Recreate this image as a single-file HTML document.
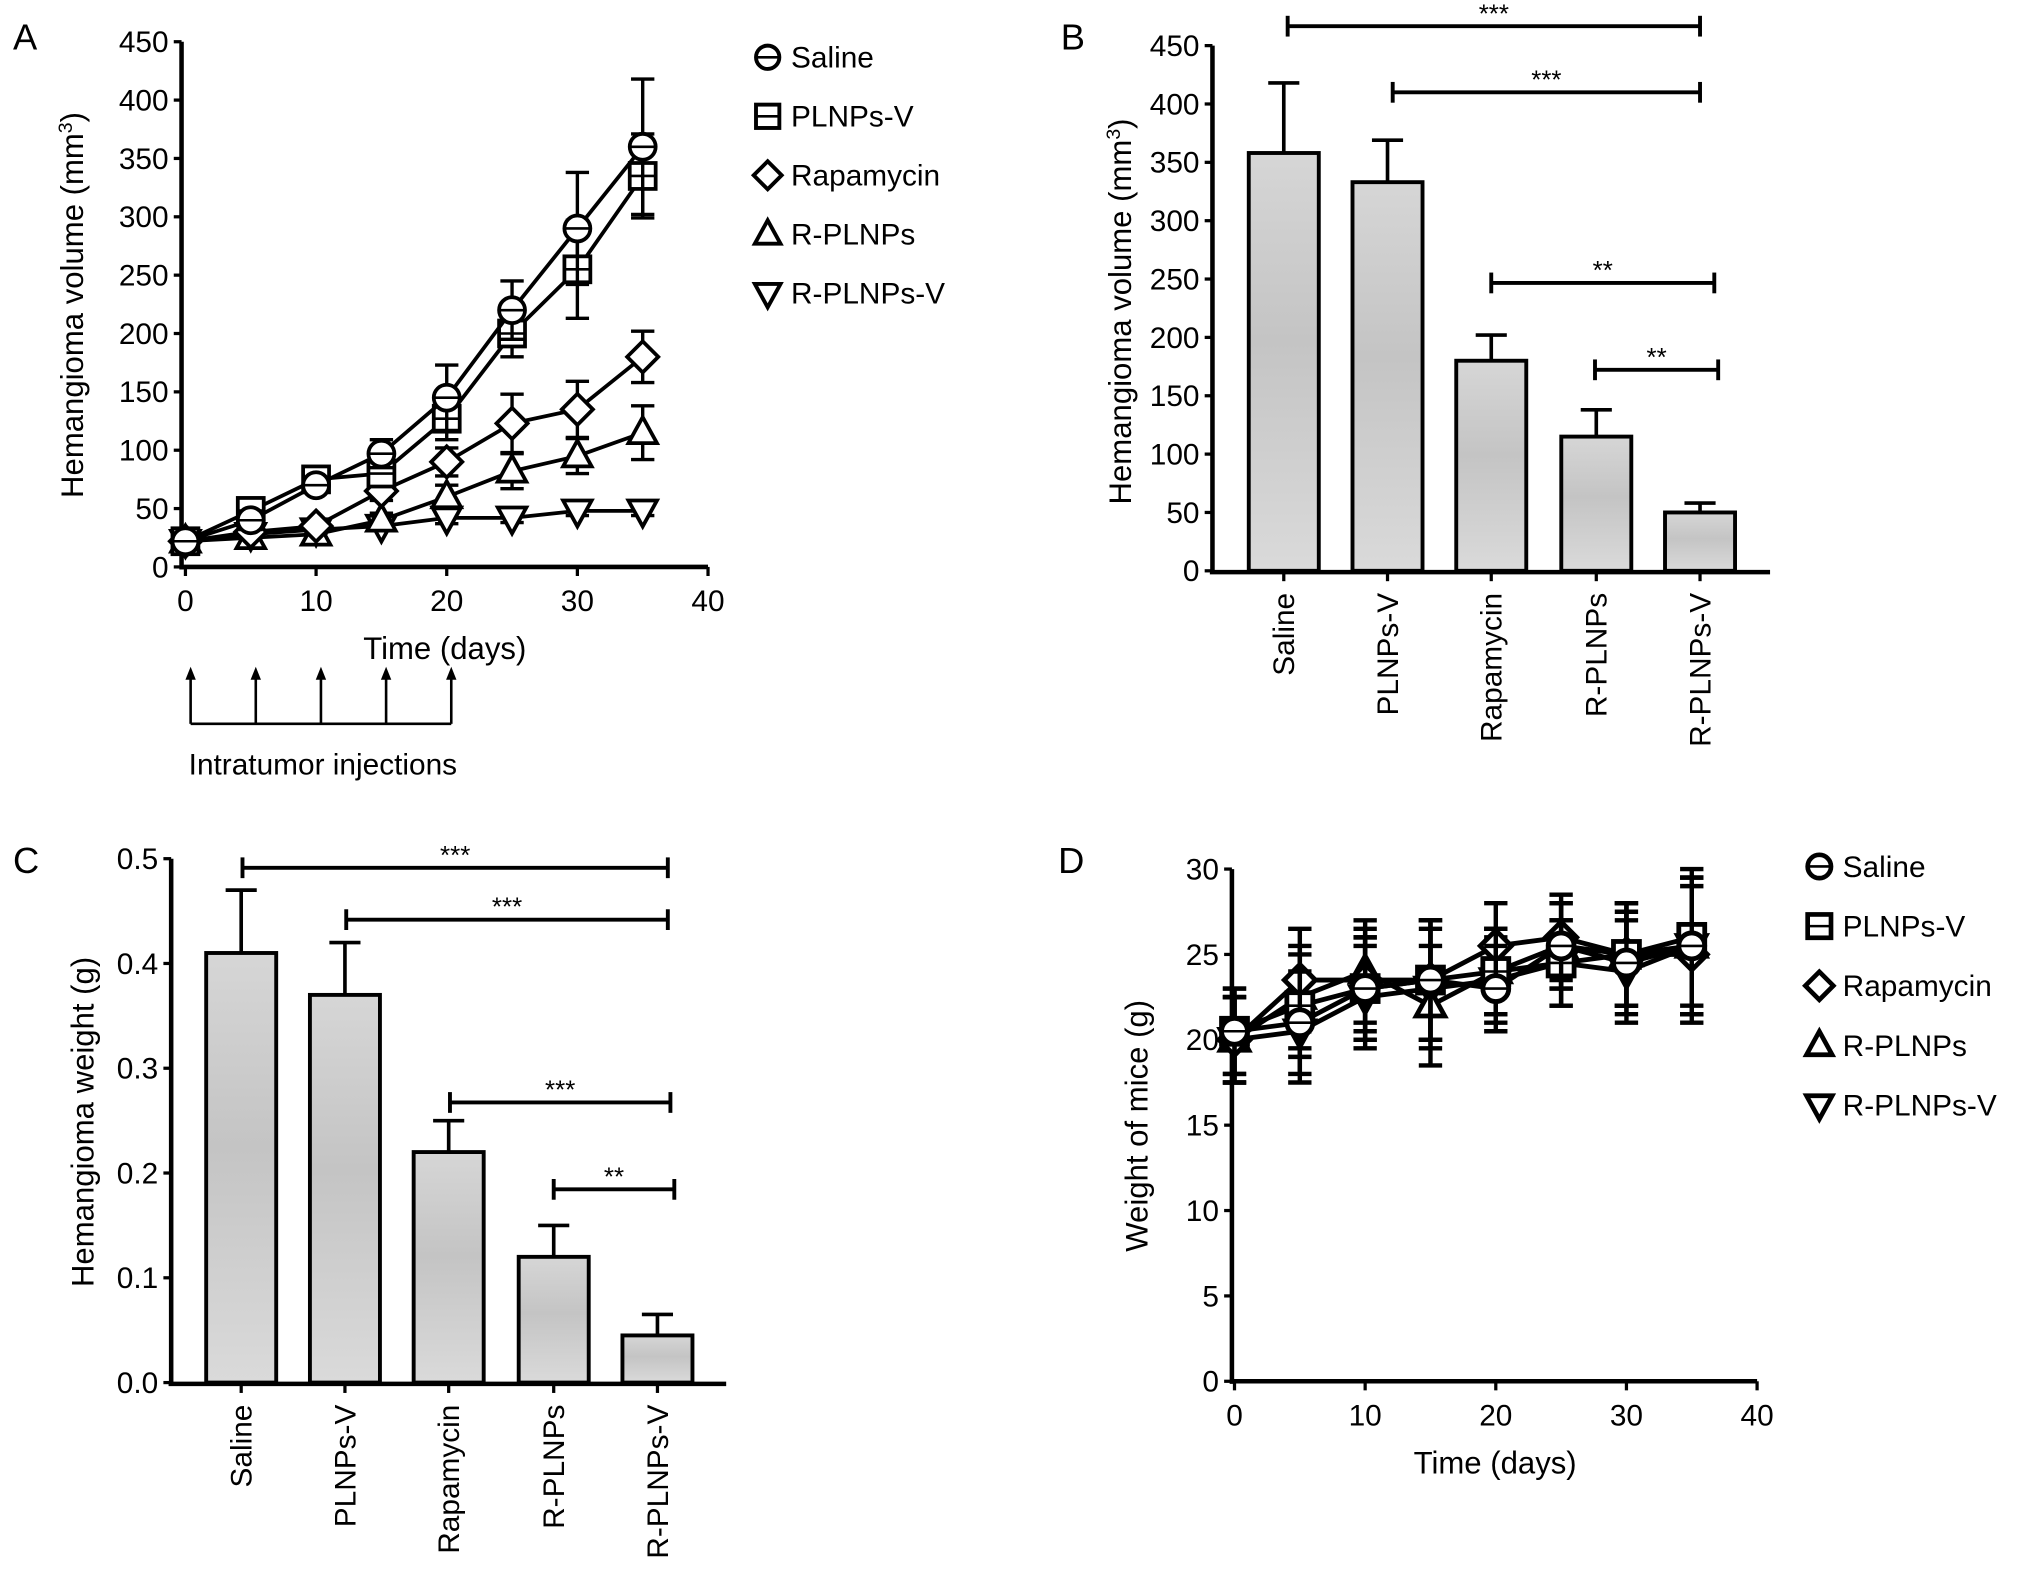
<!DOCTYPE html>
<html><head><meta charset="utf-8"><style>
html,body{margin:0;padding:0;background:#fff;}
svg{display:block;font-family:"Liberation Sans",Arial,sans-serif;}
</style></head><body>
<svg id="fig" width="2032" height="1589" viewBox="0 0 1567 1225" xmlns="http://www.w3.org/2000/svg">
<defs>
<linearGradient id="barg" x1="0" y1="0" x2="0" y2="1">
<stop offset="0" stop-color="#d6d6d6"/><stop offset="0.45" stop-color="#c4c4c4"/><stop offset="1" stop-color="#dadada"/>
</linearGradient>
</defs>
<g id="root"></g>
</svg>
<script>
// ---- data ----
const timeDays = [0,5,10,15,20,25,30,35];
const groups = ["Saline","PLNPs-V","Rapamycin","R-PLNPs","R-PLNPs-V"];
const markers = ["circle","square","diamond","up","down"];
// Panel A
const volSaline = [22,40,70,97,145,220,290,360];
const volPLNPsV = [22,48,75,80,127,200,255,335];
const volRapa = [22,30,35,65,90,123,135,180];
const volRPLNPs = [22,25,28,40,60,82,95,115];
const volRPLNPsV = [22,28,32,35,42,42,48,48];
const volErrSaline = [5,8,6,12,28,25,48,58];
const volErrPLNPsV = [5,6,5,10,18,20,42,36];
const volErrRapa = [4,5,5,8,12,25,24,22];
const volErrRPLNPs = [4,4,4,6,10,15,15,23];
const volErrRPLNPsV = [3,3,3,4,5,4,4,4];
// Panel B
const finalVol = [358,333,180,115,50];
const finalVolErr = [60,36,22,23,8];
// Panel C
const tumorWeight = [0.41,0.37,0.22,0.12,0.045];
const tumorWeightErr = [0.06,0.05,0.03,0.03,0.02];
// Panel D
const wSaline = [20.5,21,23,23.5,23,25.5,24.5,25.5];
const wPLNPsV = [20.5,22,23,23.5,24,24.5,25,26];
const wRapa = [20,23.5,23.5,23.5,25.5,26,25,25];
const wRPLNPs = [20,22.5,24,22,24,25.5,25,25.5];
const wRPLNPsV = [20,20.5,22.5,23,23.5,24.5,24,25.5];
const wErr = [2.5,3,3,3.5,2.5,2.5,3,4];
const ticksA = [0,50,100,150,200,250,300,350,400,450];
const ticksC = [0.0,0.1,0.2,0.3,0.4,0.5];
const ticksD = [0,5,10,15,20,25,30];
const ticksX = [0,10,20,30,40];

const NS="http://www.w3.org/2000/svg";
const root=document.getElementById('root');
function el(tag,attrs,parent,text){const e=document.createElementNS(NS,tag);for(const k in attrs)e.setAttribute(k,attrs[k]);if(text!==undefined)e.textContent=text;(parent||root).appendChild(e);return e;}
function lin(d0,d1,r0,r1){return v=>r0+(v-d0)*(r1-r0)/(d1-d0);}

function marker(g,type,x,y,s,sw){
  const st={fill:'#fff',stroke:'#000','stroke-width':sw||2.6};
  if(type==='circle'){el('circle',Object.assign({cx:x,cy:y,r:s},st),g);el('line',{x1:x-s,y1:y,x2:x+s,y2:y,stroke:'#000','stroke-width':2},g);}
  else if(type==='square'){el('rect',Object.assign({x:x-s,y:y-s,width:2*s,height:2*s},st),g);el('line',{x1:x-s,y1:y,x2:x+s,y2:y,stroke:'#000','stroke-width':2},g);}
  else if(type==='diamond'){el('polygon',Object.assign({points:`${x},${y-s*1.2} ${x+s*1.2},${y} ${x},${y+s*1.2} ${x-s*1.2},${y}`},st),g);}
  else if(type==='up'){el('polygon',Object.assign({points:`${x},${y-s*1.2} ${x+s*1.1},${y+s*0.8} ${x-s*1.1},${y+s*0.8}`},st),g);}
  else {el('polygon',Object.assign({points:`${x},${y+s*1.2} ${x+s*1.1},${y-s*0.8} ${x-s*1.1},${y-s*0.8}`},st),g);}
}

function yAxis(g,sx,sy,ticks,fmt){
  el('line',{x1:sx,y1:sy(ticks[0])+2,x2:sx,y2:sy(ticks[ticks.length-1]),stroke:'#000','stroke-width':3.5},g);
  ticks.forEach(t=>{
    el('line',{x1:sx-6,y1:sy(t),x2:sx,y2:sy(t),stroke:'#000','stroke-width':2.5},g);
    const tx=el('text',{x:sx-10,y:sy(t)+8,'text-anchor':'end','font-size':23},g,fmt(t));
    
    
  });
}
function xAxisNum(g,sx,y,ticks){
  el('line',{x1:sx(ticks[0])-3,y1:y,x2:sx(ticks[ticks.length-1]),y2:y,stroke:'#000','stroke-width':3.5},g);
  ticks.forEach(t=>{
    el('line',{x1:sx(t),y1:y,x2:sx(t),y2:y+7,stroke:'#000','stroke-width':2.5},g);
    const tx=el('text',{x:sx(t),y:y+34,'text-anchor':'middle','font-size':23},g,String(t));
    
    
  });
}
function label(g,x,y,txt,size,anchor,rot){
  const a={x:x,y:y,'font-size':size,'text-anchor':anchor||'middle'};
  if(rot)a.transform=`rotate(${rot} ${x} ${y})`;
  return el('text',a,g,txt);
}
function legend(g,x,y0,dy,sw){
  groups.forEach((n,i)=>{
    const lg=el('g',{},g);
    
    
    marker(lg,markers[i],x,y0+i*dy,9,sw);
    label(lg,x+18,y0+i*dy+8,n,23,'start');
  });
}
function lineSeries(g,sx,sy,xs,ys,errs,type,name,ms,lw){
  const sg=el('g',{},g);
  
  
  xs.forEach((t,i)=>{
    const x=sx(t),yt=sy(ys[i]+errs[i]),yb=sy(ys[i]-errs[i]);
    el('line',{x1:x,y1:yt,x2:x,y2:yb,stroke:'#000','stroke-width':lw},sg);
    el('line',{x1:x-9,y1:yt,x2:x+9,y2:yt,stroke:'#000','stroke-width':lw},sg);
    el('line',{x1:x-9,y1:yb,x2:x+9,y2:yb,stroke:'#000','stroke-width':lw},sg);
  });
  el('polyline',{points:xs.map((t,i)=>sx(t)+','+sy(ys[i])).join(' '),fill:'none',stroke:'#000','stroke-width':lw+0.3},sg);
  xs.forEach((t,i)=>marker(sg,type,sx(t),sy(ys[i]),ms,lw+0.3));
}
function barChart(g,sy,centers,vals,errs,bw,base){
  vals.forEach((v,i)=>{
    const bg=el('g',{},g);
    
    
    const c=centers[i],yt=sy(v+errs[i]);
    el('line',{x1:c,y1:sy(v),x2:c,y2:yt,stroke:'#000','stroke-width':2.8},bg);
    el('line',{x1:c-12,y1:yt,x2:c+12,y2:yt,stroke:'#000','stroke-width':2.8},bg);
    el('rect',{x:c-bw/2,y:sy(v),width:bw,height:sy(0)-sy(v),fill:'url(#barg)',stroke:'#000','stroke-width':3},bg);
    el('line',{x1:c,y1:base,x2:c,y2:base+7,stroke:'#000','stroke-width':2.5},g);
    const t=label(g,c+8,base+16,groups[i],23,'end',-90);
    
    
  });
}
function bracket(g,x1,x2,y,stars){
  const b=el('g',{},g);
  
  
  el('line',{x1:x1,y1:y,x2:x2,y2:y,stroke:'#000','stroke-width':3},b);
  el('line',{x1:x1,y1:y-8,x2:x1,y2:y+8,stroke:'#000','stroke-width':3},b);
  el('line',{x1:x2,y1:y-8,x2:x2,y2:y+8,stroke:'#000','stroke-width':3},b);
  label(b,(x1+x2)/2,y-3,stars,20,'middle');
}

// ---- Panel A ----
const gA=el('g',{});  
label(gA,10,38,'A',28,'start');
const sxA=lin(0,40,143,546), syA=lin(0,450,437,32);
yAxis(gA,140,syA,ticksA,String);
xAxisNum(gA,sxA,437,ticksX);
label(gA,343,508,'Time (days)',24);
const ytA=el('text',{x:64,y:235,'font-size':24,'text-anchor':'middle',transform:'rotate(-90 64 235)'},gA);


ytA.innerHTML='Hemangioma volume (mm<tspan baseline-shift="super" font-size="15">3</tspan>)';
const seriesA=[[volSaline,volErrSaline],[volPLNPsV,volErrPLNPsV],[volRapa,volErrRapa],[volRPLNPs,volErrRPLNPs],[volRPLNPsV,volErrRPLNPsV]];
for(let i=4;i>=0;i--) lineSeries(gA,sxA,syA,timeDays,seriesA[i][0],seriesA[i][1],markers[i],'series-'+groups[i].toLowerCase(),10,2.6);
legend(gA,592,44,45.5,3);
const inj=el('g',{},gA);  
[0,5,10,15,20].forEach(d=>{const x=147+d*10.05; el('line',{x1:x,y1:558,x2:x,y2:522,stroke:'#000','stroke-width':2},inj); el('polygon',{points:`${x-4},${524} ${x+4},${524} ${x},${514}`,fill:'#000'},inj);});
el('line',{x1:147,y1:558,x2:348,y2:558,stroke:'#000','stroke-width':2},inj);
label(gA,249,597,'Intratumor injections',23);

// ---- Panel B ----
const gB=el('g',{});  
label(gB,818,38,'B',28,'start');
const syB=lin(0,450,440,35);
const centersB=[990,1070,1150,1231,1311];
barChart(gB,syB,centersB,finalVol,finalVolErr,54,441);
yAxis(gB,935,syB,ticksA,String);
el('line',{x1:933,y1:441,x2:1365,y2:441,stroke:'#000','stroke-width':3.5},gB);
const ytB=el('text',{x:872,y:240,'font-size':24,'text-anchor':'middle',transform:'rotate(-90 872 240)'},gB);


ytB.innerHTML='Hemangioma volume (mm<tspan baseline-shift="super" font-size="15">3</tspan>)';
bracket(gB,993,1311,20,'***');
bracket(gB,1074,1311,71,'***');
bracket(gB,1150,1322,218,'**');
bracket(gB,1230,1325,285,'**');

// ---- Panel C ----
const gC=el('g',{});  
label(gC,10,673,'C',28,'start');
const syC=lin(0,0.5,1066,662);
const centersC=[186,266,346,427,507];
barChart(gC,syC,centersC,tumorWeight,tumorWeightErr,54,1067);
yAxis(gC,132,syC,ticksC,v=>v.toFixed(1));
el('line',{x1:130,y1:1067,x2:560,y2:1067,stroke:'#000','stroke-width':3.5},gC);
const ytC=label(gC,72,865,'Hemangioma weight (g)',24,'middle',-90);


bracket(gC,187,515,669,'***');
bracket(gC,267,515,709,'***');
bracket(gC,347,517,850,'***');
bracket(gC,427,520,917,'**');

// ---- Panel D ----
const gD=el('g',{});  
label(gD,816,673,'D',28,'start');
const sxD=lin(0,40,952,1355), syD=lin(0,30,1065,670);
yAxis(gD,950,syD,ticksD,String);
xAxisNum(gD,sxD,1065,ticksX);
label(gD,1153,1136,'Time (days)',24);
const ytD=label(gD,885,868,'Weight of mice (g)',24,'middle',-90);


const seriesD=[wSaline,wPLNPsV,wRapa,wRPLNPs,wRPLNPsV];
for(let i=4;i>=0;i--) lineSeries(gD,sxD,syD,timeDays,seriesD[i],wErr,markers[i],'series-'+groups[i].toLowerCase(),10,3.4);
legend(gD,1403,668,46,3.6);
</script>
</body></html>
